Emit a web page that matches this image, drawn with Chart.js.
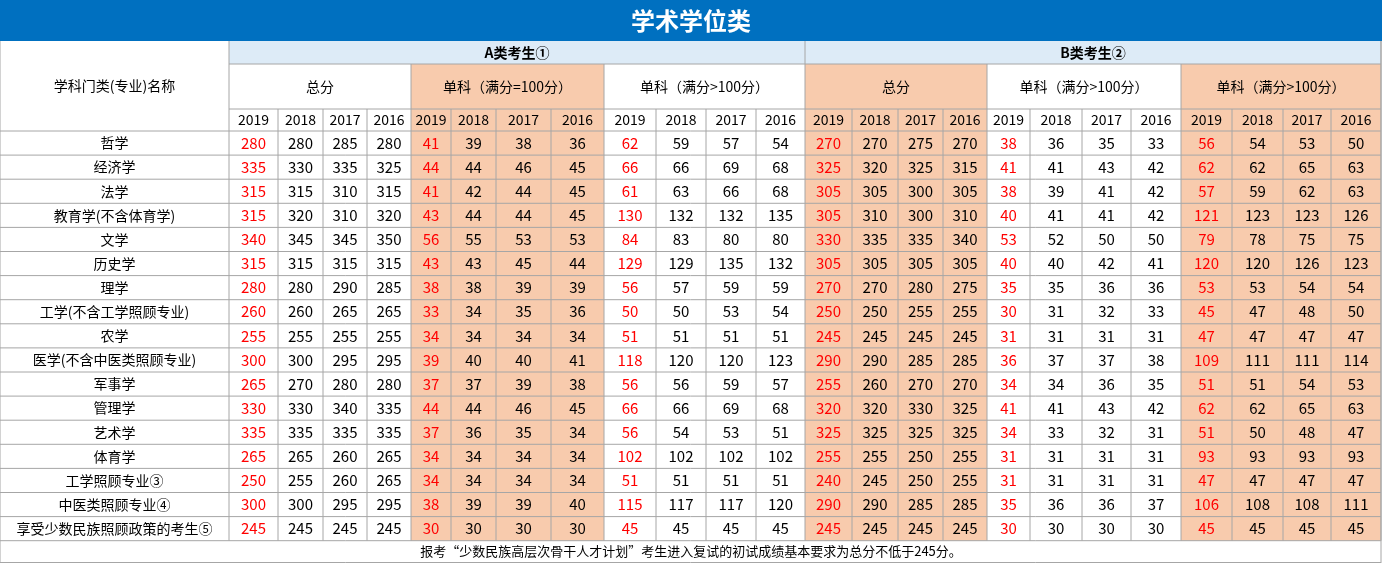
<!doctype html>
<html>
<head>
	<meta charset="utf-8">
	<title>学术学位类</title>
	<script src="https://cdn.jsdelivr.net/npm/chart.js@4/dist/chart.umd.min.js"></script>
	<style>
		body { margin: 0; background: #fff; }
		#holder { width: 1382px; height: 563px; }
	</style>
</head>
<body>
	<div id="holder"><canvas id="chart-area" width="1382" height="563"></canvas></div>
	<script>
		// data
		var title = '学术学位类';
		var groups = ['A类考生①', 'B类考生②'];
		var subGroups = ['总分', '单科（满分=100分）', '单科（满分>100分）', '总分', '单科（满分>100分）', '单科（满分>100分）'];
		var years = ['2019', '2018', '2017', '2016'];
		var subjects = ['哲学', '经济学', '法学', '教育学(不含体育学)', '文学', '历史学', '理学',
			'工学(不含工学照顾专业)', '农学', '医学(不含中医类照顾专业)', '军事学', '管理学', '艺术学',
			'体育学', '工学照顾专业③', '中医类照顾专业④', '享受少数民族照顾政策的考生⑤'];
		var aTotal = [[280,280,285,280],[335,330,335,325],[315,315,310,315],[315,320,310,320],[340,345,345,350],[315,315,315,315],[280,280,290,285],[260,260,265,265],[255,255,255,255],[300,300,295,295],[265,270,280,280],[330,330,340,335],[335,335,335,335],[265,265,260,265],[250,255,260,265],[300,300,295,295],[245,245,245,245]];
		var aSingle100 = [[41,39,38,36],[44,44,46,45],[41,42,44,45],[43,44,44,45],[56,55,53,53],[43,43,45,44],[38,38,39,39],[33,34,35,36],[34,34,34,34],[39,40,40,41],[37,37,39,38],[44,44,46,45],[37,36,35,34],[34,34,34,34],[34,34,34,34],[38,39,39,40],[30,30,30,30]];
		var aSingleOver = [[62,59,57,54],[66,66,69,68],[61,63,66,68],[130,132,132,135],[84,83,80,80],[129,129,135,132],[56,57,59,59],[50,50,53,54],[51,51,51,51],[118,120,120,123],[56,56,59,57],[66,66,69,68],[56,54,53,51],[102,102,102,102],[51,51,51,51],[115,117,117,120],[45,45,45,45]];
		var bTotal = [[270,270,275,270],[325,320,325,315],[305,305,300,305],[305,310,300,310],[330,335,335,340],[305,305,305,305],[270,270,280,275],[250,250,255,255],[245,245,245,245],[290,290,285,285],[255,260,270,270],[320,320,330,325],[325,325,325,325],[255,255,250,255],[240,245,250,255],[290,290,285,285],[245,245,245,245]];
		var bSingle100 = [[38,36,35,33],[41,41,43,42],[38,39,41,42],[40,41,41,42],[53,52,50,50],[40,40,42,41],[35,35,36,36],[30,31,32,33],[31,31,31,31],[36,37,37,38],[34,34,36,35],[41,41,43,42],[34,33,32,31],[31,31,31,31],[31,31,31,31],[35,36,36,37],[30,30,30,30]];
		var bSingleOver = [[56,54,53,50],[62,62,65,63],[57,59,62,63],[121,123,123,126],[79,78,75,75],[120,120,126,123],[53,53,54,54],[45,47,48,50],[47,47,47,47],[109,111,111,114],[51,51,54,53],[62,62,65,63],[51,50,48,47],[93,93,93,93],[47,47,47,47],[106,108,108,111],[45,45,45,45]];
		var footnote = '报考“少数民族高层次骨干人才计划”考生进入复试的初试成绩基本要求为总分不低于245分。';
		var series = [aTotal, aSingle100, aSingleOver, bTotal, bSingle100, bSingleOver];

		// layout (scale units = pixels of the picture)
		var colEdges = [229,278,323,367,411, 451,496,551,604, 656,706,756,805, 852,898,943,987, 1030,1082,1131,1181, 1232,1283,1331,1381];
		var peachGroups = [1, 3, 5];
		var rowTop = 131, rowH = 24.1;
		var FONT = '"Noto Sans CJK SC", "Noto Sans", sans-serif';

		var points = [];
		subjects.forEach(function(s, r) {
			series.forEach(function(g, gi) {
				g[r].forEach(function(v, k) {
					var c = gi * 4 + k;
					points.push({x: (colEdges[c] + colEdges[c + 1]) / 2, y: rowTop + rowH * (r + 0.5), v: v, c: c, r: r});
				});
			});
		});

		var tablePlugin = {
			id: 'table',
			afterDraw: function(chart) {
				var ctx = chart.ctx, xs = chart.scales.x, ys = chart.scales.y;
				var X = function(v) { return xs.getPixelForValue(v); };
				var Y = function(v) { return ys.getPixelForValue(v); };
				function rect(x0, y0, x1, y1, fill) {
					ctx.fillStyle = fill;
					ctx.fillRect(X(x0), Y(y0), X(x1) - X(x0), Y(y1) - Y(y0));
				}
				function text(t, x, y, color, font) {
					ctx.fillStyle = color; ctx.font = font;
					ctx.textAlign = 'center'; ctx.textBaseline = 'middle';
					ctx.fillText(t, X(x), Y(y));
				}
				function line(x0, y0, x1, y1) {
					ctx.beginPath(); ctx.moveTo(X(x0), Y(y0)); ctx.lineTo(X(x1), Y(y1)); ctx.stroke();
				}
				var bottom = rowTop + rowH * subjects.length;
				ctx.save();
				// backgrounds
				rect(0, 0, 1382, 41, '#0070C0');
				rect(229, 41, 1381, 64, '#DDEBF7');
				peachGroups.forEach(function(g) {
					rect(colEdges[g * 4], 64, colEdges[g * 4 + 4], bottom, '#F8CBAD');
				});
				// grid
				ctx.strokeStyle = '#A6A6A6'; ctx.lineWidth = 1;
				line(229, 64, 1381, 64);
				line(229, 109, 1381, 109);
				line(0, 131, 1381, 131);
				for (var r = 1; r <= subjects.length; r++) line(0, rowTop + rowH * r, 1381, rowTop + rowH * r);
				colEdges.forEach(function(e, i) {
					var top = (i % 4 === 0) ? (i % 12 === 0 ? 41 : 64) : 109;
					line(e, top, e, bottom);
				});
				line(0, 41, 0, 563); line(1381, 41, 1381, 563); line(0, 562.5, 1381, 562.5);
				// header texts
				text(title, 691, 21, '#fff', 'bold 24px ' + FONT);
				groups.forEach(function(g, i) {
					text(g, (colEdges[i * 12] + colEdges[i * 12 + 12]) / 2, 52.5, '#000', 'bold 14px ' + FONT);
				});
				subGroups.forEach(function(g, i) {
					text(g, (colEdges[i * 4] + colEdges[i * 4 + 4]) / 2, 86.5, '#000', '14px ' + FONT);
					years.forEach(function(y, k) {
						text(y, (colEdges[i * 4 + k] + colEdges[i * 4 + k + 1]) / 2, 120, '#000', '14px ' + FONT);
					});
				});
				text('学科门类(专业)名称', 114.5, 86, '#000', '14px ' + FONT);
				subjects.forEach(function(s, r) {
					text(s, 114.5, rowTop + rowH * (r + 0.5), '#000', '14px ' + FONT);
				});
				// cell values
				chart.data.datasets[0].data.forEach(function(p) {
					text(String(p.v), p.x, p.y, p.c % 4 === 0 ? '#FF0000' : '#000', '15px ' + FONT);
				});
				text(footnote, 691, 551, '#000', '13px ' + FONT);
				ctx.restore();
			}
		};

		window.onload = function() {
			var ctx = document.getElementById('chart-area').getContext('2d');
			window.myTable = new Chart(ctx, {
				type: 'scatter',
				data: { datasets: [{ data: points, pointRadius: 0, pointHoverRadius: 0 }] },
				options: {
					responsive: false,
					animation: false,
					layout: { padding: 0 },
					plugins: { legend: { display: false }, tooltip: { enabled: false } },
					scales: {
						x: { type: 'linear', min: 0, max: 1382, display: false },
						y: { type: 'linear', min: 0, max: 563, reverse: true, display: false }
					}
				},
				plugins: [tablePlugin]
			});
		};
	</script>
</body>
</html>
